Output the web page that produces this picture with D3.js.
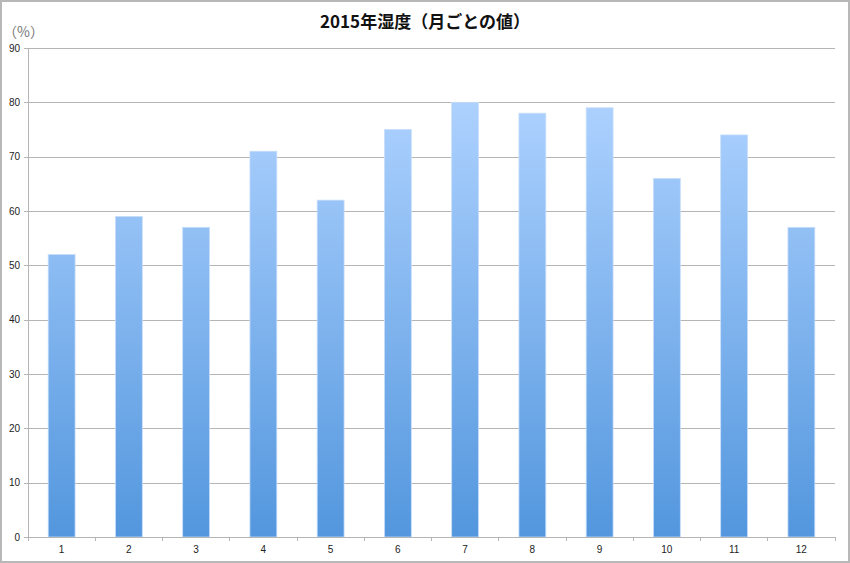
<!DOCTYPE html>
<html lang="ja">
<head>
<meta charset="UTF-8">
<title>2015年湿度</title>
<style>
    html, body { margin: 0; padding: 0; background: #fff; }
    svg { display: block; font-family: "Noto Sans CJK JP", "DejaVu Sans", sans-serif; }
    .axis text { font-size: 10px; fill: #222; font-family: "Liberation Sans", "DejaVu Sans", sans-serif; }
    .axis path, .axis line { stroke: #b5b5b5; shape-rendering: crispEdges; }
    .grid line { stroke: #b5b5b5; shape-rendering: crispEdges; }
    .grid path { display: none; }
</style>
</head>
<body>
<script src="https://d3js.org/d3.v7.min.js"></script>
<script>
    // 月ごとの湿度
    const months = ["1", "2", "3", "4", "5", "6", "7", "8", "9", "10", "11", "12"];
    const humidity = [52, 59, 57, 71, 62, 75, 80, 78, 79, 66, 74, 57];
    const yTicks = [0, 10, 20, 30, 40, 50, 60, 70, 80, 90];

    const W = 850, H = 563;
    const margin = {top: 48, right: 15, bottom: 26, left: 28};
    const width = W - margin.left - margin.right,
        height = H - margin.top - margin.bottom;

    const svg = d3.select("body").append("svg")
        .attr("width", W)
        .attr("height", H);

    // 外枠
    svg.append("rect")
        .attr("x", 1).attr("y", 1)
        .attr("width", W - 2).attr("height", H - 2)
        .attr("fill", "#fff")
        .attr("stroke", "#b8b8b8")
        .attr("stroke-width", 2);

    const defs = svg.append("defs");
    const grad = defs.append("linearGradient")
        .attr("id", "barGrad")
        .attr("gradientUnits", "userSpaceOnUse")
        .attr("x1", 0).attr("y1", margin.top)
        .attr("x2", 0).attr("y2", margin.top + height);
    grad.append("stop").attr("offset", "0%").attr("stop-color", "#aed2ff");
    grad.append("stop").attr("offset", "100%").attr("stop-color", "#4990da");

    const g = svg.append("g")
        .attr("transform", "translate(" + margin.left + "," + margin.top + ")");

    const x = d3.scaleBand()
        .domain(months)
        .range([0, width])
        .paddingInner(0.6)
        .paddingOuter(0.3);

    const y = d3.scaleLinear()
        .domain([0, 90])
        .range([height, 0]);

    // グリッド線
    g.append("g")
        .attr("class", "grid")
        .call(d3.axisLeft(y).tickValues(yTicks).tickSize(-width).tickFormat(""));

    // 棒
    g.selectAll("rect.bar")
        .data(humidity)
        .enter().append("rect")
        .attr("class", "bar")
        .attr("x", (d, i) => x(months[i]))
        .attr("y", d => y(d))
        .attr("width", x.bandwidth())
        .attr("height", d => height - y(d))
        .attr("fill", "url(#barGrad)")
        .attr("stroke", "#c8defa")
        .attr("stroke-width", 0.8);

    // Y軸
    const yAxis = g.append("g")
        .attr("class", "axis")
        .call(d3.axisLeft(y).tickValues(yTicks).tickSize(4).tickPadding(4));
    yAxis.select(".domain").attr("d", "M0," + height + "V0");

    // X軸 (目盛りはカテゴリの境界)
    const xAxis = g.append("g")
        .attr("class", "axis")
        .attr("transform", "translate(0," + height + ")")
        .call(d3.axisBottom(x).tickSize(0).tickPadding(9));
    xAxis.select(".domain").attr("d", "M0,0H" + width);
    const step = width / months.length;
    xAxis.selectAll("line.sep")
        .data(d3.range(months.length + 1))
        .enter().append("line")
        .attr("class", "sep")
        .attr("x1", d => d * step).attr("x2", d => d * step)
        .attr("y1", 0).attr("y2", 4);

    // タイトル
    svg.append("text")
        .attr("x", W / 2)
        .attr("y", 28)
        .attr("text-anchor", "middle")
        .style("font-size", "17px")
        .style("font-weight", "bold")
        .style("fill", "#111")
        .text("2015年湿度（月ごとの値）");

    // 単位
    svg.append("text")
        .attr("x", 3)
        .attr("y", 37)
        .style("font-size", "14px")
        .style("fill", "#777")
        .text("（%）");
</script>
</body>
</html>
